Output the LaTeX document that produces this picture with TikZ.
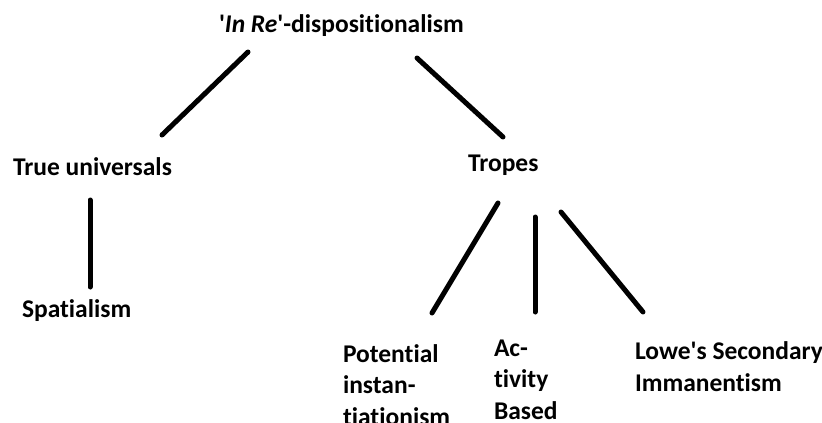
\documentclass[tikz,border=0pt]{standalone}
\usepackage{fontspec}
\setmainfont{Carlito}[Ligatures=NoCommon]
\begin{document}
\begin{tikzpicture}[x=1pt,y=-1pt,
  label/.style={inner sep=0pt,outer sep=0pt,anchor=base west,align=left,
    font=\fontsize{25.5}{31.5}\selectfont\bfseries},
  branch/.style={line width=5pt,line cap=round}]
\useasboundingbox (0,0) rectangle (822,423);
% category labels (base anchor sits on the last line of a multi-line label)
\node[label] (root) at (219,32) {\textquotesingle\textit{In Re}\textquotesingle-dispositionalism};
\node[label] (univ) at (13,175) {True universals};
\node[label] (tropes) at (468,171) {Tropes};
\node[label] (spat) at (22,317) {Spatialism};
\node[label] (pot) at (343,425) {Potential\\instan-\\tiationism};
\node[label] (act) at (494,419) {Ac-\\tivity\\Based};
\node[label] (lowe) at (635,391) {Lowe\textquotesingle s Secondary\\Immanentism};
% free ends of the branch strokes
\coordinate (r1) at (248,52);  \coordinate (u1) at (162,135);
\coordinate (r2) at (417,58);  \coordinate (t0) at (503,137);
\coordinate (u2) at (90,200);  \coordinate (s1) at (90,287);
\coordinate (t1) at (498,203); \coordinate (p1) at (432,313);
\coordinate (t2) at (535,217); \coordinate (a1) at (535,312);
\coordinate (t3) at (561,212); \coordinate (l1) at (643,312);
% branches
\draw[branch] (r1) -- (u1);
\draw[branch] (r2) -- (t0);
\draw[branch] (u2) -- (s1);
\draw[branch] (t1) -- (p1);
\draw[branch] (t2) -- (a1);
\draw[branch] (t3) -- (l1);
\end{tikzpicture}
\end{document}
